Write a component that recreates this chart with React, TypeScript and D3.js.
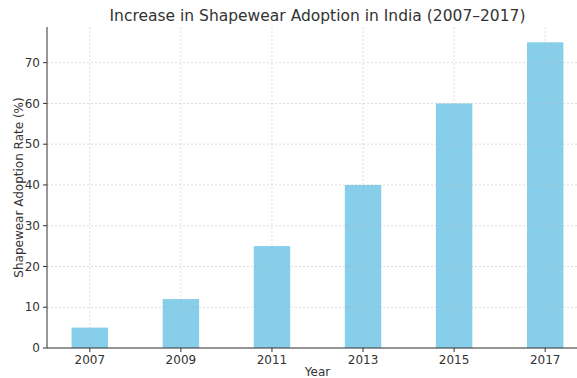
import React from "react";
import * as d3 from "d3";

const years = [2007, 2009, 2011, 2013, 2015, 2017];
const adoption = [5, 12, 25, 40, 60, 75];
const yTicks = [0, 10, 20, 30, 40, 50, 60, 70];

const W = 577;
const H = 378;
const M = { left: 47, top: 27, bottom: 348, right: 588 };
const BAR_W = 0.8;
const FONT = "DejaVu Sans, sans-serif";
const INK = "#333";

export default function App() {
  const lo = d3.min(years)! - BAR_W / 2;
  const hi = d3.max(years)! + BAR_W / 2;
  const pad = (hi - lo) * 0.05;
  const x = d3.scaleLinear().domain([lo - pad, hi + pad]).range([M.left, M.right]);
  const y = d3
    .scaleLinear()
    .domain([0, d3.max(adoption)! * 1.05])
    .range([M.bottom, M.top]);

  return (
    <svg
      width={W}
      height={H}
      style={{ position: "absolute", left: 0, top: 0, background: "#fff" }}
      fontFamily={FONT}
    >
      <text x={(M.left + M.right) / 2} y={21} textAnchor="middle" fontSize={15.5} fill={INK}>
        Increase in Shapewear Adoption in India (2007–2017)
      </text>

      {years.map((yr, i) => (
        <rect
          key={yr}
          x={x(yr - BAR_W / 2)}
          y={y(adoption[i])}
          width={x(yr + BAR_W / 2) - x(yr - BAR_W / 2)}
          height={y(0) - y(adoption[i])}
          fill="#87CEEB"
        />
      ))}

      <g stroke="#b0b0b0" strokeOpacity={0.55} strokeWidth={0.8} strokeDasharray="2,2">
        {yTicks.map((t) => (
          <line key={"h" + t} x1={M.left} x2={M.right} y1={y(t)} y2={y(t)} />
        ))}
        {years.map((yr) => (
          <line key={"v" + yr} x1={x(yr)} x2={x(yr)} y1={M.top} y2={M.bottom} />
        ))}
      </g>

      <g stroke={INK} strokeWidth={1}>
        <line x1={M.left} x2={M.left} y1={M.top} y2={M.bottom} />
        <line x1={M.left} x2={M.right} y1={M.bottom} y2={M.bottom} />
        {yTicks.map((t) => (
          <line key={"yt" + t} x1={M.left - 4} x2={M.left} y1={y(t)} y2={y(t)} />
        ))}
        {years.map((yr) => (
          <line key={"xt" + yr} x1={x(yr)} x2={x(yr)} y1={M.bottom} y2={M.bottom + 4} />
        ))}
      </g>

      <g fontSize={12} fill={INK}>
        {yTicks.map((t) => (
          <text key={"yl" + t} x={M.left - 7} y={y(t)} dy="0.35em" textAnchor="end">
            {t}
          </text>
        ))}
        {years.map((yr) => (
          <text key={"xl" + yr} x={x(yr)} y={M.bottom + 16} textAnchor="middle">
            {yr}
          </text>
        ))}
      </g>

      <text x={(M.left + M.right) / 2} y={376} textAnchor="middle" fontSize={12} fill={INK}>
        Year
      </text>
      <text
        transform={`translate(23,${(M.top + M.bottom) / 2}) rotate(-90)`}
        textAnchor="middle"
        fontSize={12}
        fill={INK}
      >
        Shapewear Adoption Rate (%)
      </text>
    </svg>
  );
}
